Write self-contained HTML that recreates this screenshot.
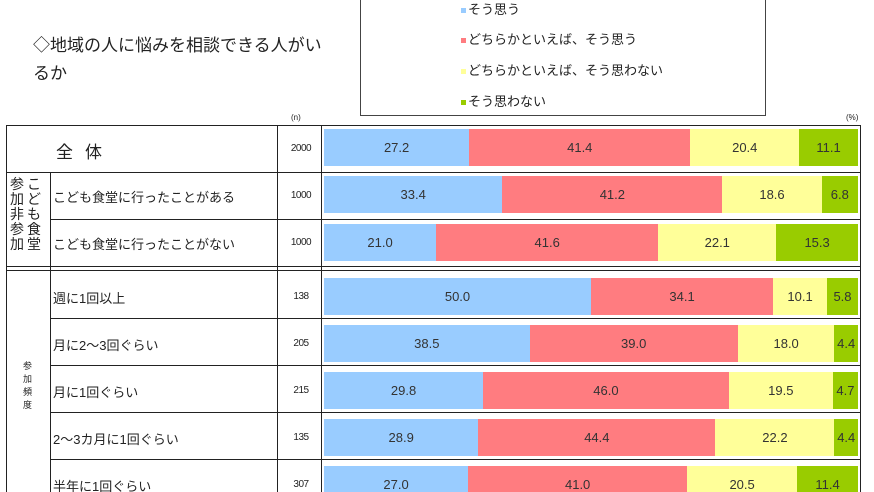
<!DOCTYPE html>
<html><head><meta charset="utf-8"><style>
html,body{margin:0;width:874px;height:492px;overflow:hidden}
body{background:#fff;font-family:"Liberation Sans","Noto Sans CJK JP",sans-serif;color:#222;position:relative}
.a{position:absolute}
.h{position:absolute;height:1px;background:#222}
.v{position:absolute;width:1px;background:#222}
.bar{position:absolute;height:37px;display:flex}
.bar div{height:100%;display:flex;align-items:center;justify-content:center;font-size:13px;color:#333}
.b{background:#99ccff}.r{background:#ff7c80}.y{background:#ffff99}.g{background:#99cc00}
.lab{position:absolute;left:53px;font-size:13px;white-space:nowrap}
.n{position:absolute;left:282px;width:38px;text-align:center;font-size:10px;letter-spacing:-0.5px}
.leg{position:absolute;left:461px;font-size:13px;white-space:nowrap}
.leg span{display:inline-block;width:5px;height:5px;margin-right:2px;vertical-align:middle}
</style></head><body>
<div class="a" style="left:33px;top:32px;font-size:17px;line-height:28px;width:320px">◇地域の人に悩みを相談できる人がい<br>るか</div>
<div class="a" style="left:360px;top:-2px;width:404px;height:116px;border:1px solid #444"></div>
<div class="leg" style="top:-1px"><span class="b"></span>そう思う</div>
<div class="leg" style="top:29px"><span class="r"></span>どちらかといえば、そう思う</div>
<div class="leg" style="top:60px"><span class="y"></span>どちらかといえば、そう思わない</div>
<div class="leg" style="top:91px"><span class="g"></span>そう思わない</div>
<div class="a" style="left:291px;top:113px;font-size:8px">(n)</div>
<div class="a" style="left:846px;top:113px;font-size:8px">(%)</div>
<div class="h" style="left:6px;top:125px;width:855px"></div>
<div class="h" style="left:6px;top:172px;width:855px"></div>
<div class="h" style="left:50px;top:219px;width:811px"></div>
<div class="h" style="left:6px;top:266px;width:855px"></div>
<div class="h" style="left:6px;top:270px;width:855px"></div>
<div class="h" style="left:50px;top:318px;width:811px"></div>
<div class="h" style="left:50px;top:365px;width:811px"></div>
<div class="h" style="left:50px;top:412px;width:811px"></div>
<div class="h" style="left:50px;top:459px;width:811px"></div>
<div class="v" style="left:6px;top:125px;height:367px"></div>
<div class="v" style="left:50px;top:172px;height:320px"></div>
<div class="v" style="left:277px;top:125px;height:367px"></div>
<div class="v" style="left:321px;top:125px;height:367px"></div>
<div class="v" style="left:860px;top:125px;height:367px"></div>
<div class="a" style="left:56px;top:138px;font-size:17px;letter-spacing:12px">全体</div>
<div class="a" style="left:10px;top:177px;font-size:14px;line-height:15px;letter-spacing:3px;width:40px">参こ<br>加ど<br>非も<br>参食<br>加堂</div>
<div class="a" style="left:23px;top:360px;font-size:9px;line-height:13px">参<br>加<br>頻<br>度</div>
<div class="lab" style="top:187px">こども食堂に行ったことがある</div>
<div class="lab" style="top:234px">こども食堂に行ったことがない</div>
<div class="lab" style="top:288px">週に1回以上</div>
<div class="lab" style="top:335px">月に2～3回ぐらい</div>
<div class="lab" style="top:382px">月に1回ぐらい</div>
<div class="lab" style="top:429px">2～3カ月に1回ぐらい</div>
<div class="lab" style="top:476px">半年に1回ぐらい</div>
<div class="n" style="top:143px">2000</div>
<div class="n" style="top:190px">1000</div>
<div class="n" style="top:237px">1000</div>
<div class="n" style="top:291px">138</div>
<div class="n" style="top:338px">205</div>
<div class="n" style="top:385px">215</div>
<div class="n" style="top:432px">135</div>
<div class="n" style="top:479px">307</div>
<div class="bar" style="left:324px;top:129px;width:534px"><div class="b" style="width:27.2%">27.2</div><div class="r" style="width:41.4%">41.4</div><div class="y" style="width:20.4%">20.4</div><div class="g" style="width:11.0%">11.1</div></div>
<div class="bar" style="left:324px;top:176px;width:534px"><div class="b" style="width:33.4%">33.4</div><div class="r" style="width:41.2%">41.2</div><div class="y" style="width:18.6%">18.6</div><div class="g" style="width:6.8%">6.8</div></div>
<div class="bar" style="left:324px;top:224px;width:534px"><div class="b" style="width:21.0%">21.0</div><div class="r" style="width:41.6%">41.6</div><div class="y" style="width:22.1%">22.1</div><div class="g" style="width:15.3%">15.3</div></div>
<div class="bar" style="left:324px;top:278px;width:534px"><div class="b" style="width:50.0%">50.0</div><div class="r" style="width:34.1%">34.1</div><div class="y" style="width:10.1%">10.1</div><div class="g" style="width:5.8%">5.8</div></div>
<div class="bar" style="left:324px;top:325px;width:534px"><div class="b" style="width:38.5%">38.5</div><div class="r" style="width:39.0%">39.0</div><div class="y" style="width:18.1%">18.0</div><div class="g" style="width:4.4%">4.4</div></div>
<div class="bar" style="left:324px;top:372px;width:534px"><div class="b" style="width:29.8%">29.8</div><div class="r" style="width:46.0%">46.0</div><div class="y" style="width:19.5%">19.5</div><div class="g" style="width:4.7%">4.7</div></div>
<div class="bar" style="left:324px;top:419px;width:534px"><div class="b" style="width:28.9%">28.9</div><div class="r" style="width:44.4%">44.4</div><div class="y" style="width:22.3%">22.2</div><div class="g" style="width:4.4%">4.4</div></div>
<div class="bar" style="left:324px;top:466px;width:534px"><div class="b" style="width:27.0%">27.0</div><div class="r" style="width:41.0%">41.0</div><div class="y" style="width:20.6%">20.5</div><div class="g" style="width:11.4%">11.4</div></div>
</body></html>
